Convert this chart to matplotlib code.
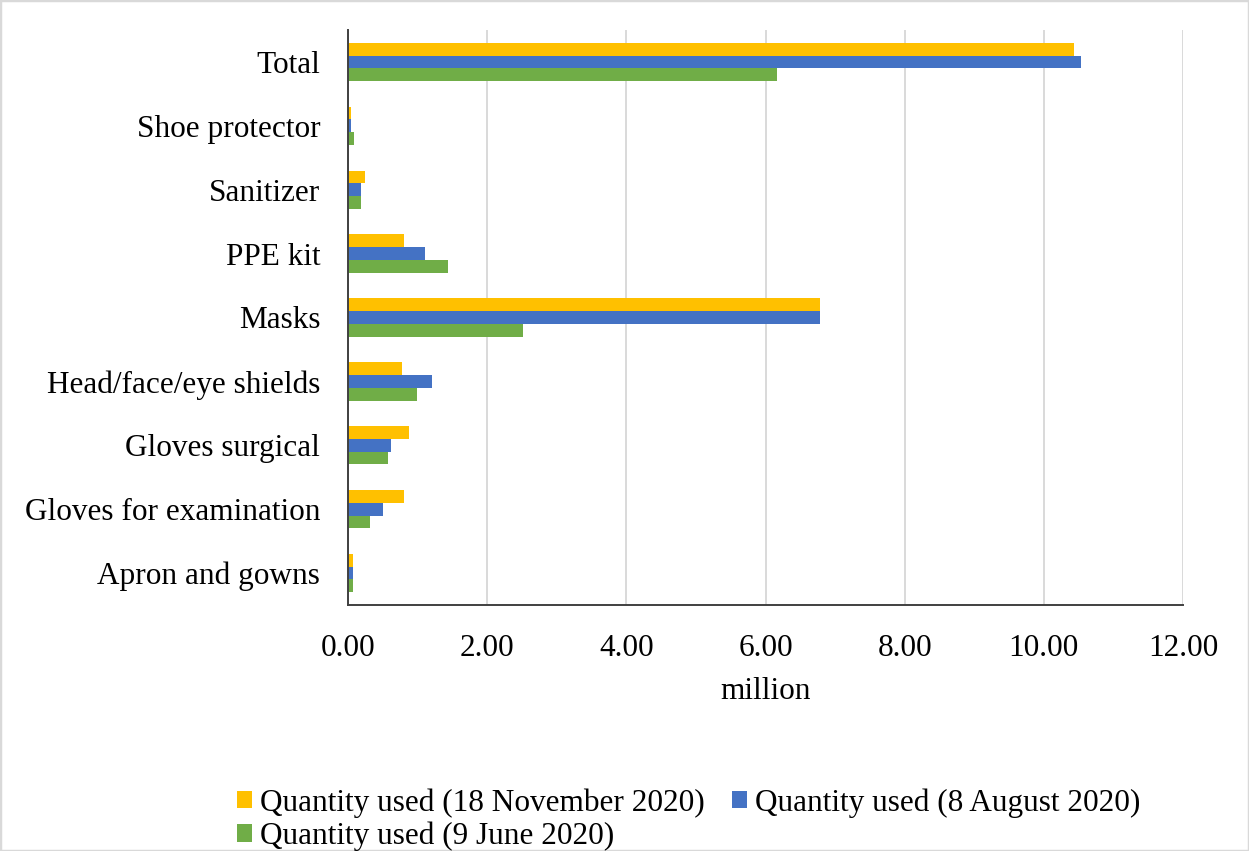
import matplotlib
matplotlib.use("Agg")
import matplotlib.pyplot as plt
import numpy as np
from matplotlib.patches import Rectangle

categories = ["Apron and gowns", "Gloves for examination", "Gloves surgical",
              "Head/face/eye shields", "Masks", "PPE kit", "Sanitizer",
              "Shoe protector", "Total"]
nov_2020 = [0.07, 0.81, 0.87, 0.78, 6.78, 0.81, 0.24, 0.04, 10.44]
aug_2020 = [0.07, 0.51, 0.62, 1.20, 6.78, 1.10, 0.19, 0.05, 10.54]
jun_2020 = [0.07, 0.31, 0.57, 0.99, 2.52, 1.43, 0.19, 0.08, 6.17]
series_labels = ["Quantity used (18 November 2020)",
                 "Quantity used (8 August 2020)",
                 "Quantity used (9 June 2020)"]
xticks = [0, 2, 4, 6, 8, 10, 12]
xlabel = "million"

plt.rcParams['font.family'] = ['Liberation Serif', 'DejaVu Serif']

fig = plt.figure(figsize=(12.49, 8.51), dpi=100)
ax = fig.add_axes([348/1249, 1-605/851, (1183-348)/1249, (605-30)/851])

y = np.arange(len(categories))
h = 0.2
c_y, c_b, c_g = "#FFC000", "#4472C4", "#70AD47"
b1 = ax.barh(y + h, nov_2020, height=h, color=c_y, label=series_labels[0], zorder=3)
b2 = ax.barh(y, aug_2020, height=h, color=c_b, label=series_labels[1], zorder=3)
b3 = ax.barh(y - h, jun_2020, height=h, color=c_g, label=series_labels[2], zorder=3)

ax.set_xlim(0, 12)
ax.set_ylim(-0.5, len(categories) - 0.5)
ax.set_xticks(xticks)
ax.set_xticklabels([f"{v:.2f}" for v in xticks])
ax.set_yticks(y)
ax.set_yticklabels(categories)
ax.tick_params(axis='y', length=0, pad=20, labelsize=22.5)
ax.tick_params(axis='x', length=0, pad=21, labelsize=22.5)
ax.set_xlabel(xlabel, fontsize=22.5, labelpad=10)

ax.grid(axis='x', color='#d9d9d9', linewidth=1.4, zorder=0)
ax.set_axisbelow(True)
for s in ['top', 'right']:
    ax.spines[s].set_visible(False)
for s in ['left', 'bottom']:
    ax.spines[s].set_color('#404040')
    ax.spines[s].set_linewidth(1.4)
    ax.spines[s].set_zorder(4)

fig.legend([b1, b3, b2], [series_labels[0], series_labels[2], series_labels[1]],
           ncol=2, loc='upper left', bbox_to_anchor=(237/1249, 1-788/851),
           frameon=False, fontsize=22.5, borderpad=0, borderaxespad=0,
           handlelength=0.47, handleheight=0.47, handletextpad=0.25,
           columnspacing=0.9, labelspacing=0.13)

fig.patches.append(Rectangle((0, 0), 1, 1, transform=fig.transFigure,
                             fill=False, edgecolor='#d9d9d9', linewidth=2.5))

fig.savefig("out.png", dpi=100)
